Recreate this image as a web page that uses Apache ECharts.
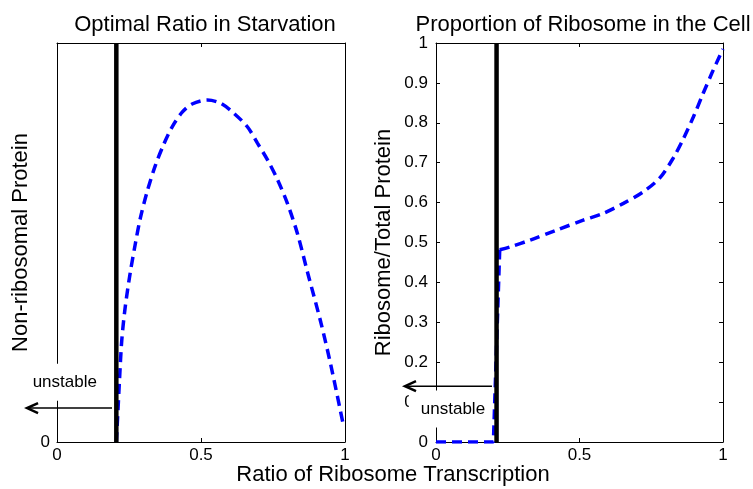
<!DOCTYPE html>
<html>
<head>
<meta charset="utf-8">
<script src="https://cdn.jsdelivr.net/npm/echarts@6/dist/echarts.min.js"></script>
<style>
  html, body { margin: 0; padding: 0; background: #fff; }
  #chart { width: 753px; height: 489px; }
</style>
</head>
<body>
<div id="chart"></div>
<script>
// Left panel: optimal non-ribosomal protein level vs. ribosome transcription ratio
const starvationX = [0.206, 0.210, 0.217, 0.225, 0.237, 0.254, 0.272, 0.289, 0.312, 0.341, 0.370,
  0.400, 0.434, 0.469, 0.522, 0.568, 0.614, 0.661, 0.696, 0.731, 0.766, 0.800, 0.835,
  0.870, 0.916, 0.951, 0.995];
const starvationY = [0.000, 0.055, 0.155, 0.256, 0.339, 0.423, 0.497, 0.560, 0.625, 0.692, 0.745,
  0.790, 0.826, 0.847, 0.857, 0.849, 0.824, 0.790, 0.749, 0.707, 0.657, 0.598, 0.522,
  0.425, 0.300, 0.192, 0.040];

// Right panel: ribosome share of total protein (flat part + jump, then the rising branch)
const ribosomeJumpX = [0.000, 0.200, 0.205, 0.222];
const ribosomeJumpY = [0.000, 0.000, 0.000, 0.482];
const ribosomeX = [0.222, 0.258, 0.328, 0.420, 0.513, 0.583, 0.653, 0.722,
  0.780, 0.827, 0.862, 0.897, 0.931, 0.961, 0.990, 1.000];
const ribosomeY = [0.482, 0.489, 0.506, 0.531, 0.556, 0.573, 0.598, 0.627,
  0.662, 0.712, 0.760, 0.815, 0.874, 0.924, 0.970, 0.985];

// Stability threshold of the transcription ratio (black vertical line)
const thresholdLeft = 0.206;
const thresholdRight = 0.211;

const xTicks = [0, 0.5, 1];
const ribosomeTicks = [0, 0.1, 0.2, 0.3, 0.4, 0.5, 0.6, 0.7, 0.8, 0.9, 1];

const titles = ['Optimal Ratio in Starvation', 'Proportion of Ribosome in the Cell'];
const yNames = ['Non-ribosomal Protein', 'Ribosome/Total Protein'];
const xName = 'Ratio of Ribosome Transcription';
const noteText = 'unstable';

const FONT = 'Liberation Sans, Arial, sans-serif';
const pair = (xs, ys) => xs.map((x, i) => [x, ys[i]]);

const chart = echarts.init(document.getElementById('chart'), null, { renderer: 'canvas' });

const baseAxis = {
  axisLine: { show: true, onZero: false, lineStyle: { color: '#000', width: 1 } },
  axisTick: { show: true, inside: true, length: 4, lineStyle: { color: '#000' } },
  splitLine: { show: false },
  axisLabel: { color: '#000', fontFamily: FONT, fontSize: 17 }
};

function xAxisPair(grid) {
  return [
    Object.assign({}, baseAxis, {
      type: 'value', gridIndex: grid, min: 0, max: 1, interval: 0.5, position: 'bottom',
      axisLabel: Object.assign({}, baseAxis.axisLabel, {
        margin: 5,
        formatter: v => (xTicks.indexOf(v) >= 0 ? String(v) : '')
      })
    }),
    Object.assign({}, baseAxis, {
      type: 'value', gridIndex: grid, min: 0, max: 1, interval: 0.5, position: 'top',
      axisLabel: { show: false }
    })
  ];
}

const titleStyle = { fontFamily: FONT, fontSize: 22, fontWeight: 'normal', color: '#000' };
const blueDash = { color: '#0000ff', width: 3.5, type: [10, 6] };

const option = {
  backgroundColor: '#fff',
  animation: false,
  title: [
    { text: titles[0], left: 200, top: 9, textAlign: 'center', textStyle: titleStyle },
    { text: titles[1], left: 578, top: 9, textAlign: 'center', textStyle: titleStyle },
    { text: xName, left: 388, top: 459, textAlign: 'center', textStyle: titleStyle }
  ],
  grid: [
    { left: 57, right: 408, top: 43, bottom: 47 },
    { left: 436, right: 30, top: 43, bottom: 47 }
  ],
  xAxis: [].concat(xAxisPair(0), xAxisPair(1)),
  yAxis: [
    Object.assign({}, baseAxis, {
      type: 'value', gridIndex: 0, min: 0, max: 1, interval: 1, position: 'left',
      name: yNames[0], nameLocation: 'middle', nameGap: 25,
      nameTextStyle: { fontFamily: FONT, fontSize: 22, color: '#000' },
      axisLabel: Object.assign({}, baseAxis.axisLabel, {
        margin: 7, formatter: v => (v === 0 ? '0' : '')
      })
    }),
    Object.assign({}, baseAxis, {
      type: 'value', gridIndex: 0, min: 0, max: 1, interval: 1, position: 'right',
      axisLabel: { show: false }
    }),
    Object.assign({}, baseAxis, {
      type: 'value', gridIndex: 1, min: 0, max: 1, interval: 0.1, position: 'left',
      name: yNames[1], nameLocation: 'middle', nameGap: 41,
      nameTextStyle: { fontFamily: FONT, fontSize: 22, color: '#000' },
      axisLabel: Object.assign({}, baseAxis.axisLabel, {
        margin: 8,
        formatter: v => {
          const t = ribosomeTicks.find(k => Math.abs(k - v) < 1e-9);
          return t === undefined ? '' : String(t);
        }
      })
    }),
    Object.assign({}, baseAxis, {
      type: 'value', gridIndex: 1, min: 0, max: 1, interval: 0.1, position: 'right',
      axisLabel: { show: false }
    })
  ],
  series: [
    {
      type: 'line', xAxisIndex: 0, yAxisIndex: 0, data: pair(starvationX, starvationY),
      smooth: 0.3, symbol: 'none', z: 3, lineStyle: blueDash
    },
    {
      type: 'line', xAxisIndex: 0, yAxisIndex: 0,
      data: [[thresholdLeft, 0], [thresholdLeft, 1]],
      symbol: 'none', z: 4, lineStyle: { color: '#000', width: 4.5 }
    },
    {
      type: 'line', xAxisIndex: 2, yAxisIndex: 2, data: pair(ribosomeJumpX, ribosomeJumpY),
      symbol: 'none', z: 3, lineStyle: blueDash
    },
    {
      type: 'line', xAxisIndex: 2, yAxisIndex: 2, data: pair(ribosomeX, ribosomeY),
      smooth: 0.3, symbol: 'none', z: 3, lineStyle: blueDash
    },
    {
      type: 'line', xAxisIndex: 2, yAxisIndex: 2,
      data: [[thresholdRight, 0], [thresholdRight, 1]],
      symbol: 'none', z: 4, lineStyle: { color: '#000', width: 4.5 }
    }
  ]
};

chart.setOption(option);

// "unstable" notes (white boxes, right-aligned at textEnd) with arrows pointing left
const notes = [
  { axes: { xAxisIndex: 0, yAxisIndex: 0 }, arrowFrom: [0.191, 0.085], arrowTo: [-0.104, 0.085],
    textEnd: [0.149, 0.150], pad: [10, 3, 10, 3] },
  { axes: { xAxisIndex: 2, yAxisIndex: 2 }, arrowFrom: [0.195, 0.140], arrowTo: [-0.108, 0.140],
    textEnd: [0.178, 0.083], pad: [10, 2, 10, 12] }
];

const graphics = [];
notes.forEach(n => {
  const a = chart.convertToPixel(n.axes, n.arrowFrom);
  const b = chart.convertToPixel(n.axes, n.arrowTo);
  const t = chart.convertToPixel(n.axes, n.textEnd);
  graphics.push({
    type: 'text', z: 100, x: t[0], y: t[1],
    style: {
      text: noteText, fill: '#000', font: '17px ' + FONT,
      align: 'right', verticalAlign: 'middle',
      backgroundColor: '#fff', padding: n.pad
    }
  });
  graphics.push({
    type: 'line', z: 101,
    shape: { x1: a[0], y1: a[1], x2: b[0], y2: b[1] },
    style: { stroke: '#000', lineWidth: 1.5 }
  });
  graphics.push({
    type: 'polyline', z: 101,
    shape: { points: [[b[0] + 11, b[1] - 5], [b[0], b[1]], [b[0] + 11, b[1] + 5]] },
    style: { stroke: '#000', lineWidth: 2.5, fill: null }
  });
});
chart.setOption({ graphic: graphics });
</script>
</body>
</html>
